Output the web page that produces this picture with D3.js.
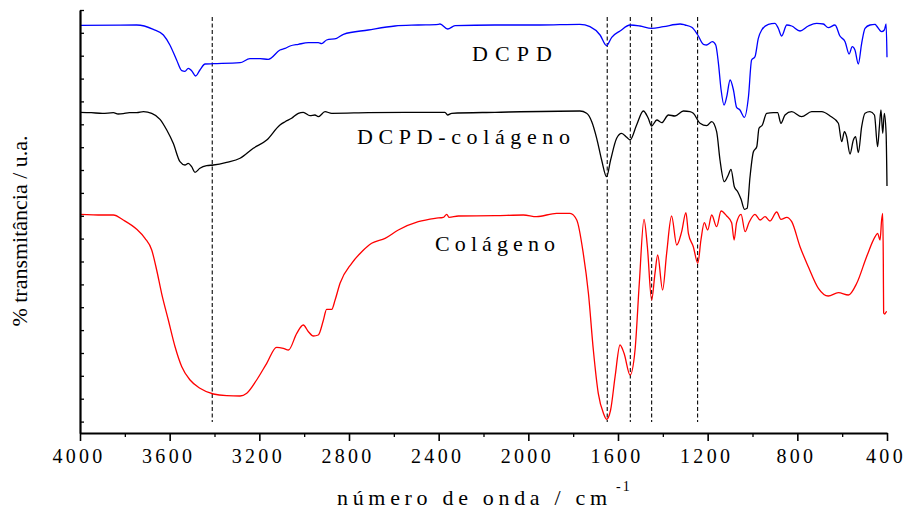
<!DOCTYPE html>
<html>
<head>
<meta charset="utf-8">
<script src="https://cdn.jsdelivr.net/npm/d3@7"></script>
<style>
  html, body { margin: 0; padding: 0; background: #fff; }
  svg { display: block; }
  text { font-family: "Liberation Serif", "Times New Roman", "DejaVu Serif", serif; fill: #000; }
</style>
</head>
<body>
<svg id="chart" width="907" height="511"></svg>
<script>
// ---------- data (wavenumber cm-1, transmittance u.a.) ----------
const dcpdWave = [4000,3747,3673,3628,3599,3569,3546,3532,3517,3502,3484,3465,3442,3405,3286,3242,3197,3160,3108,3085,3063,3026,2981,2937,2922,2900,2855,2825,2714,2595,2491,2401,2394,2360,2327,2149,1948,1770,1725,1680,1651,1628,1591,1546,1502,1450,1398,1323,1301,1271,1244,1219,1204,1179,1164,1152,1140,1127,1115,1100,1085,1071,1056,1036,1018,1004,989,974,959,929,900,885,870,847,825,788,751,714,684,662,632,610,587,569,555,543,528,513,498,476,453,446,424,412,404,400];
const dcpdT    = [407.7,408,403.7,398,388,373,362.3,361.7,364.7,362.3,357,363,369,369.3,370.3,374.3,374.3,373.7,383,384.7,387,388.7,390.3,390.3,389.3,393,394.7,398.7,403,407,408,408.7,409,404,407.3,408,408,408.7,406.3,398,387.3,395.7,402,408,407,404.7,406.3,409,408,405.7,398,388.7,388,391.3,388,369.7,343,328,336.3,353,343,325.7,323,315.7,336.3,373,376.3,394.7,403,408.7,409.7,404.7,397,408,407,402,407,409.7,409,405.3,408,397,391.3,379,386.3,383,369,389.7,404.7,408,408.7,407,401.3,403,409,375.7];

const compWave = [4000,3950,3900,3851,3830,3807,3780,3747,3717,3680,3643,3613,3584,3554,3532,3517,3502,3487,3465,3435,3405,3346,3286,3227,3167,3108,3085,3056,3026,3004,2974,2952,2937,2907,2877,2714,2491,2372,2360,2342,2149,1770,1740,1717,1695,1673,1651,1633,1606,1584,1561,1546,1517,1487,1465,1450,1427,1405,1375,1346,1308,1279,1264,1234,1204,1182,1160,1145,1126,1108,1096,1081,1066,1051,1036,1024,1011,996,981,971,956,937,907,888,873,855,825,781,736,691,654,617,602,590,580,565,550,540,528,513,498,476,456,442,434,427,419,412,404,400];
const compT    = [320.7,320.3,319.6,320.3,319,319.3,320.3,320.3,321.3,319.7,313.7,303,289.7,271.3,268,269.7,266.3,260.7,264.7,267.3,268,270.7,274.7,284.7,293,308,311.3,314.7,319.7,320.7,317.3,318,316.3,321.3,319.7,320.3,320.7,320.7,318,319.7,320.7,322,319.7,311.3,294.7,273,256.3,273,294.7,299.7,295.7,293,308,322,314.7,307,313,310.3,318,317,322,321.3,319.7,309.7,307.3,311.3,301.3,273,251.3,258,263.7,246.3,241.3,233.7,223.7,224.7,256.3,281.3,286.3,304.7,308,319.7,320.3,320.3,309.7,318,321.3,316.3,321.3,321.3,317,309.7,291.3,301.3,296.3,279,293,296.3,280.3,306.3,319.7,321.3,318,286.3,306.3,323,299.7,319.7,299.7,247];

const colWave = [4000,3900,3851,3807,3747,3710,3680,3658,3636,3606,3576,3546,3509,3465,3405,3346,3286,3256,3212,3167,3123,3093,3070,3033,3004,2981,2959,2937,2914,2900,2877,2862,2840,2788,2743,2699,2639,2580,2491,2416,2379,2364,2354,2312,2149,2022,1963,1874,1814,1784,1755,1732,1710,1688,1665,1651,1633,1613,1591,1573,1546,1524,1505,1484,1469,1450,1435,1423,1401,1383,1361,1338,1316,1297,1286,1264,1244,1230,1215,1200,1182,1160,1140,1115,1093,1082,1071,1051,1033,1016,989,966,944,922,892,873,847,825,788,751,706,662,617,572,535,491,453,442,431,424,419,416.5,415,410,404,400];
const colT    = [218.7,218,218,213,203.7,194.7,183,163,139.7,113,86.3,66.3,53,44.7,39,37.3,37,39.7,53,69.7,85.7,84.7,83,99.7,108,101.3,97,98,113,123.7,123.7,133,149.7,169.7,181.3,189.7,194.7,203,211.3,214.7,215.7,218.7,215.7,217,217.3,218,216.3,219.7,219.7,213,179.7,139.7,83,39.7,19.7,13.7,23,56.3,88,79.7,58,83,149.7,213.7,186.3,133,159.7,178,143,179.7,217,188,201.3,220.3,199.7,186.3,169.7,193,210.3,203,218,206.3,222,217,210.3,193,210.3,218.7,201.3,210.3,218.7,213,216.3,212,221,213.7,215.7,211.3,186.3,166.3,144.7,137,140.3,138,149.7,176.3,196.3,199.7,193,213,219.7,173,120,119,121,121.3];

const seriesNames  = ["DCPD", "DCPD-colágeno", "Colágeno"];
const seriesColors = ["#0000ff", "#000000", "#ff0000"];

const markerLines = [3410, 1648, 1545, 1450, 1245];

const xMajorTicks = [4000, 3600, 3200, 2800, 2400, 2000, 1600, 1200, 800, 400];
const xMinorTicks = [3800, 3400, 3000, 2600, 2200, 1800, 1400, 1000, 600];
const yTickValues = [11.4, 34.3, 57.2, 80.0, 102.9, 125.8, 148.6, 171.5, 194.4, 217.2, 240.1, 263.0, 285.8, 308.7, 331.6, 354.4, 377.3, 400.2, 423];

const xTitle = "número de onda / cm";
const xTitleSup = "-1";
const yTitle = "% transmitância / u.a.";

// ---------- layout ----------
const svg = d3.select("#chart");
const mLeft = 80, mRight = 887, mTop = 10, mBottom = 433;

const x = d3.scaleLinear().domain([4000, 400]).range([mLeft, mRight]);
const y = d3.scaleLinear().domain([0, 423]).range([mBottom, mTop]);

// marker dashed lines
svg.append("g").selectAll("line").data(markerLines).join("line")
  .attr("x1", d => x(d)).attr("x2", d => x(d))
  .attr("y1", y(416)).attr("y2", y(11))
  .attr("stroke", "#111").attr("stroke-width", 1.15)
  .attr("stroke-dasharray", "4,2.5");

// spectra
const series = [
  {wave: dcpdWave, t: dcpdT},
  {wave: compWave, t: compT},
  {wave: colWave, t: colT}
];
const line = d3.line()
  .x(d => x(d[0])).y(d => y(d[1]))
  .curve(d3.curveMonotoneX);

series.forEach((s, i) => {
  const pts = s.wave.map((w, j) => [w, s.t[j]]);
  svg.append("path").datum(pts)
    .attr("d", line)
    .attr("fill", "none")
    .attr("stroke", seriesColors[i])
    .attr("stroke-width", 1.3)
    .attr("stroke-linejoin", "round");
});

// x axis (major)
const ls = 3.3;
const xAxis = svg.append("g").attr("transform", `translate(0,${mBottom})`)
  .call(d3.axisBottom(x).tickValues(xMajorTicks).tickSize(8).tickSizeOuter(0).tickFormat(d3.format("d")));
xAxis.select(".domain").attr("stroke-width", 2).attr("stroke", "#000");
xAxis.selectAll(".tick line").attr("stroke-width", 1.6);
xAxis.selectAll(".tick text")
  .attr("y", 29.5).attr("dy", 0).attr("dx", -1.5)
  .style("font-family", '"Liberation Serif", "Times New Roman", "DejaVu Serif", serif')
  .style("font-size", "20px")
  .style("letter-spacing", ls + "px")
  .attr("fill", "#000");

// x axis (minor)
svg.append("g").attr("transform", `translate(0,${mBottom})`)
  .call(d3.axisBottom(x).tickValues(xMinorTicks).tickSize(4).tickSizeOuter(0).tickFormat(""))
  .call(g => g.select(".domain").remove())
  .selectAll(".tick line").attr("stroke-width", 1.3);

// y axis
const yAxis = svg.append("g").attr("transform", `translate(${mLeft},0)`)
  .call(d3.axisRight(y).tickValues(yTickValues).tickSize(4).tickSizeOuter(0).tickFormat(""));
yAxis.select(".domain").attr("stroke-width", 2.2).attr("stroke", "#000");
yAxis.selectAll(".tick line").attr("stroke-width", 1.3);

// series labels
const labelPos = [
  {x: 472, y: 61, w: 80},
  {x: 357, y: 143.5, w: 213},
  {x: 435, y: 251, w: 120}
];
seriesNames.forEach((name, i) => {
  svg.append("text")
    .attr("x", labelPos[i].x).attr("y", labelPos[i].y)
    .attr("textLength", labelPos[i].w)
    .attr("lengthAdjust", "spacing")
    .style("font-size", "22px")
    .text(name);
});

// axis titles
svg.append("text")
  .attr("x", 337).attr("y", 505)
  .attr("textLength", 270).attr("lengthAdjust", "spacing")
  .style("font-size", "22px")
  .text(xTitle);
svg.append("text")
  .attr("x", 616).attr("y", 491)
  .style("font-size", "14px")
  .style("letter-spacing", "2px")
  .text(xTitleSup);

svg.append("text")
  .attr("transform", "translate(27,231) rotate(-90)")
  .attr("text-anchor", "middle")
  .style("font-size", "22px")
  .text(yTitle);
</script>
</body>
</html>
